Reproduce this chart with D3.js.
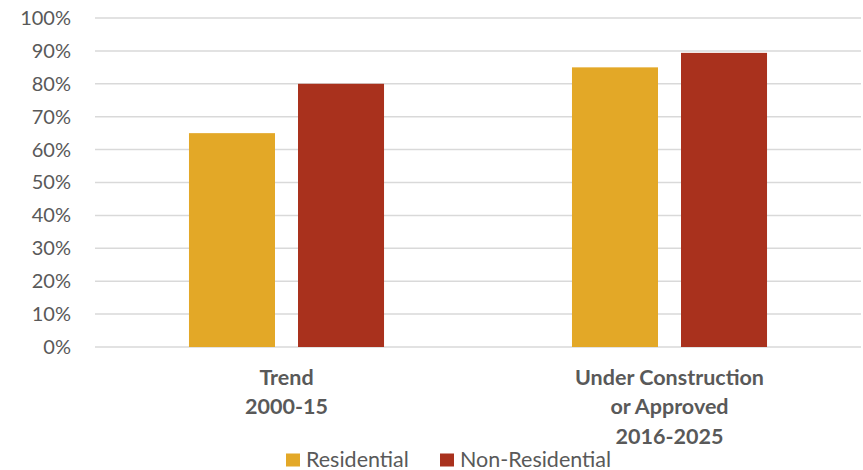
<!DOCTYPE html>
<html>
<head>
<meta charset="utf-8">
<script src="https://cdn.jsdelivr.net/npm/d3@7"></script>
<style>
  html, body { margin: 0; padding: 0; background: #fff; }
  svg { display: block; font-family: Lato, "Open Sans", sans-serif; }
</style>
</head>
<body>
<svg id="chart" width="863" height="470"></svg>
<script>
// Share of development by period and type
const categories = [["Trend", "2000-15"], ["Under Construction", "or Approved", "2016-2025"]];
const series = ["Residential", "Non-Residential"];
const residential = [0.65, 0.85];
const nonResidential = [0.80, 0.894];
const yTicks = [0, 0.1, 0.2, 0.3, 0.4, 0.5, 0.6, 0.7, 0.8, 0.9, 1.0];
const colors = ["#E3A827", "#A9311D"];

const svg = d3.select("#chart");
const plotLeft = 95, plotRight = 861, plotTop = 18, plotBottom = 347;

const catKeys = categories.map((c, i) => i);
const x0 = d3.scaleBand().domain(catKeys).range([plotLeft, plotRight]).paddingInner(0).paddingOuter(0);
const x1 = d3.scaleBand().domain(series).range([0, x0.bandwidth()]).paddingInner(0.211).paddingOuter(0.862);
const y = d3.scaleLinear().domain([0, 1]).range([plotBottom, plotTop]);

// Gridlines
svg.append("g")
  .selectAll("line")
  .data(yTicks)
  .join("line")
  .attr("x1", plotLeft).attr("x2", plotRight)
  .attr("y1", d => y(d)).attr("y2", d => y(d))
  .attr("stroke", "#d9d9d9").attr("stroke-width", 1.5);

// Y axis labels
const yAxis = d3.axisLeft(y).tickValues(yTicks).tickFormat(d3.format(".0%")).tickSize(0).tickPadding(0);
const ya = svg.append("g").attr("transform", "translate(71,0)").call(yAxis);
ya.select(".domain").remove();
ya.selectAll("text").attr("fill", "#595959").style("font-size", "20px").style("font-family", "Lato, sans-serif");

// Bars
const data = catKeys.map(i => ({ cat: i, values: [residential[i], nonResidential[i]] }));
svg.append("g")
  .selectAll("g")
  .data(data)
  .join("g")
  .attr("transform", d => `translate(${x0(d.cat)},0)`)
  .selectAll("rect")
  .data(d => d.values.map((v, j) => ({ key: series[j], value: v, j })))
  .join("rect")
  .attr("x", d => x1(d.key))
  .attr("width", x1.bandwidth())
  .attr("y", d => y(d.value))
  .attr("height", d => y(0) - y(d.value))
  .attr("fill", d => colors[d.j]);

// Category labels
const catG = svg.append("g");
categories.forEach((lines, i) => {
  const cx = x0(i) + x0.bandwidth() / 2;
  const t = catG.append("text")
    .attr("x", cx)
    .attr("text-anchor", "middle")
    .attr("fill", "#595959")
    .style("font-weight", "bold")
    .style("font-size", "21.5px");
  lines.forEach((ln, k) => {
    t.append("tspan").attr("x", cx).attr("y", 384.5 + k * 29.5).text(ln);
  });
});

// Legend
const legendItems = [{ name: series[0], x: 286 }, { name: series[1], x: 440 }];
const lg = svg.append("g");
legendItems.forEach((it, j) => {
  lg.append("rect").attr("x", it.x).attr("y", 453.5).attr("width", 14).attr("height", 13).attr("fill", colors[j]);
  lg.append("text").attr("x", it.x + 20).attr("y", 467)
    .attr("fill", "#595959").style("font-size", "21.5px").text(it.name);
});
</script>
</body>
</html>
